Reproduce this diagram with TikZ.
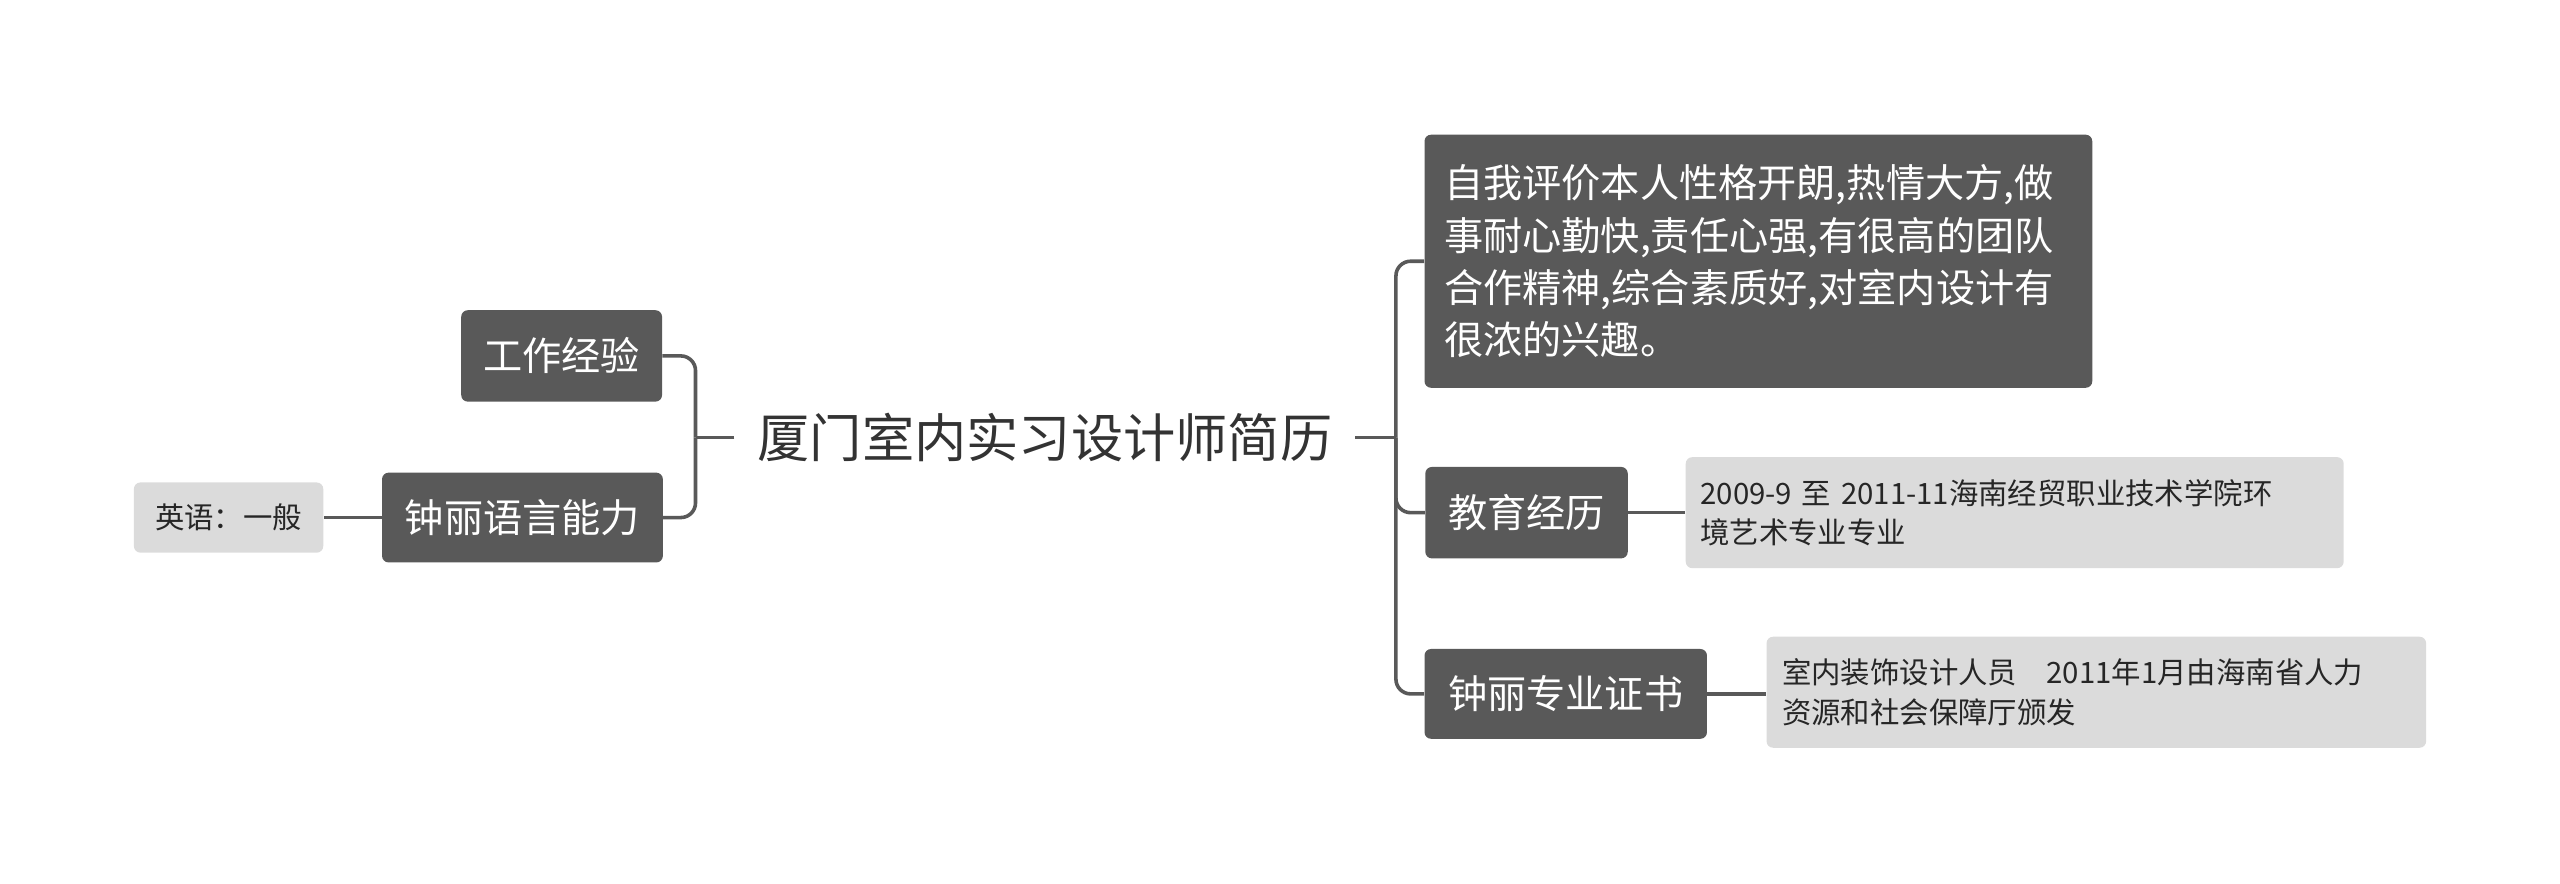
\documentclass[tikz,border=0pt]{standalone}
\usepackage{fontspec}
\setmainfont{Noto Sans CJK SC}
\begin{document}
\begin{tikzpicture}[x=1pt,y=-1pt,
  dark/.style={fill=black!65,text=white,rounded corners=4pt,font=\fontsize{24}{32}\selectfont,inner sep=0pt,anchor=center},
  light/.style={fill=black!14,text=black!85,rounded corners=4pt,font=\fontsize{18}{24}\selectfont,inner sep=0pt,anchor=center},
  conn/.style={draw=black!65,line width=2.2pt,rounded corners=9pt}]
\useasboundingbox (0,0) rectangle (1568,541);
\node[font=\fontsize{32}{38}\selectfont,text=black!80,inner sep=0pt] (t) at (640,268) {厦门室内实习设计师简历};
\coordinate (L) at (426,268);
\coordinate (R) at (855,268);
\node[dark,minimum width=123pt,minimum height=56pt] (gz) at (344,218) {工作经验};
\node[dark,minimum width=172pt,minimum height=55pt] (yy) at (320,317) {钟丽语言能力};
\node[light,minimum width=116pt,minimum height=43pt] (en) at (140,317) {英语：一般};
\node[dark,minimum width=409pt,minimum height=155pt,text width=385pt,align=left] (zw) at (1077,160) {自我评价本人性格开朗,热情大方,做\\事耐心勤快,责任心强,有很高的团队\\合作精神,综合素质好,对室内设计有\\很浓的兴趣。};
\node[dark,minimum width=124pt,minimum height=56pt] (jy) at (935,314) {教育经历};
\node[light,minimum width=403pt,minimum height=68pt,text width=385pt,align=left] (jy2) at (1234,314) {2009-9 至 2011-11海南经贸职业技术学院环\\境艺术专业专业};
\node[dark,minimum width=173pt,minimum height=55pt] (zs) at (959,425) {钟丽专业证书};
\node[light,minimum width=404pt,minimum height=68pt,text width=385pt,align=left] (zs2) at (1284,424) {室内装饰设计人员\quad 2011年1月由海南省人力\\资源和社会保障厅颁发};
\draw[conn] ([xshift=-14pt]t.west) -- (L);
\draw[conn] ([xshift=14pt]t.east) -- (R);
\draw[conn] (L) |- (gz.east);
\draw[conn] (L) |- (yy.east);
\draw[conn] (R) |- (zw.west);
\draw[conn] (R) |- (jy.west);
\draw[conn] (R) |- (zs.west);
\draw[conn] (yy.west) -- (en.east);
\draw[conn] (jy.east) -- (jy.east -| jy2.west);
\draw[conn] (zs.east) -- (zs.east -| zs2.west);
\end{tikzpicture}
\end{document}
